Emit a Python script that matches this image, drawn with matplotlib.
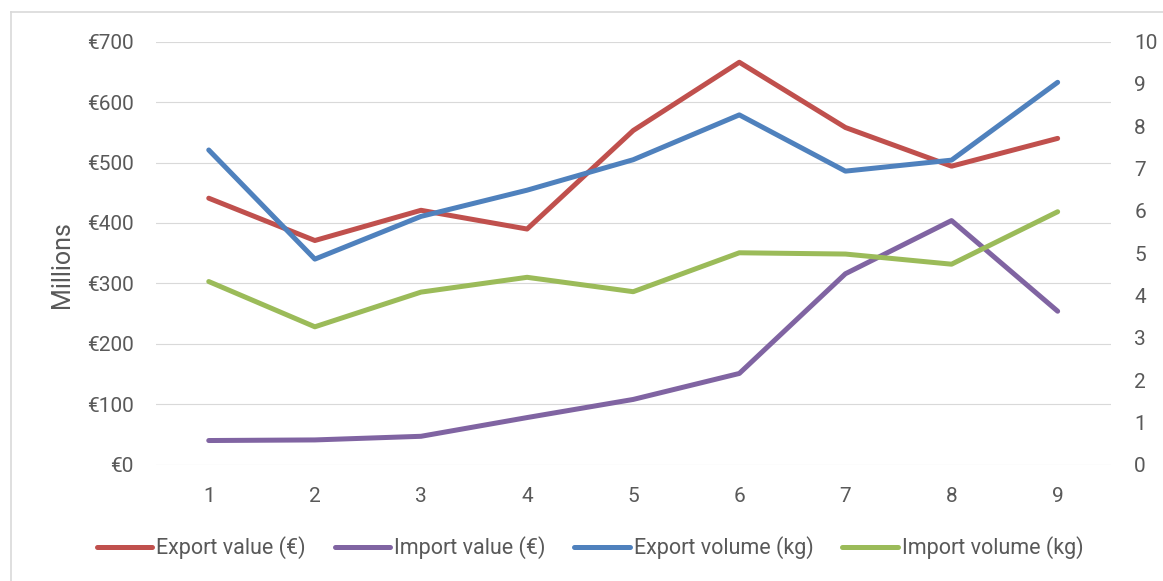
import matplotlib
matplotlib.use('Agg')
import matplotlib.pyplot as plt
import matplotlib.ticker as mticker
from matplotlib.lines import Line2D

plt.rcParams['font.family'] = ['Roboto', 'DejaVu Sans']

periods = [1, 2, 3, 4, 5, 6, 7, 8, 9]
export_value = [441, 371, 421, 390, 553, 666, 558, 494, 540]      # € millions
import_value = [40, 41, 47, 78, 108, 151, 316, 404, 254]         # € millions
export_volume = [7.44, 4.86, 5.87, 6.49, 7.21, 8.27, 6.94, 7.20, 9.04]
import_volume = [4.33, 3.26, 4.08, 4.43, 4.09, 5.01, 4.98, 4.74, 5.98]

left_ticks = [0, 100, 200, 300, 400, 500, 600, 700]
right_ticks = list(range(0, 11))

RED, PURPLE, BLUE, GREEN = '#C0504D', '#8064A2', '#4F81BD', '#9BBB59'
TXT = '#595959'
GRID = '#D9D9D9'
LINE_KW = dict(lw=3.6, solid_capstyle='round', solid_joinstyle='round')

W, H = 1163, 581
fig = plt.figure(figsize=(W / 100, H / 100), dpi=100)
ax = fig.add_axes([155.7 / W, 1 - 464.7 / H, (1110.7 - 155.7) / W, (464.7 - 41.7) / H])
ax2 = ax.twinx()

ax.plot(periods, export_value, color=RED, label='Export value (€)', **LINE_KW)
ax.plot(periods, import_value, color=PURPLE, label='Import value (€)', **LINE_KW)
ax2.plot(periods, export_volume, color=BLUE, label='Export volume (kg)', **LINE_KW)
ax2.plot(periods, import_volume, color=GREEN, label='Import volume (kg)', **LINE_KW)

ax.set_xlim(0.5, 9.5)
ax.set_ylim(0, 700)
ax2.set_ylim(0, 10)
ax.set_xticks(periods)
ax.set_yticks(left_ticks)
ax2.set_yticks(right_ticks)
ax.yaxis.set_major_formatter(mticker.FuncFormatter(lambda v, _: f'€{v:.0f}'))

ax.grid(axis='y', color=GRID, lw=0.8)
ax.set_axisbelow(True)
for a in (ax, ax2):
    for s in a.spines.values():
        s.set_visible(False)
    a.tick_params(length=0, labelsize=15, labelcolor=TXT)
ax.tick_params(axis='y', pad=16)
ax.tick_params(axis='x', pad=16)
ax2.tick_params(axis='y', pad=17)

fig.text(62 / W, 1 - 265 / H, 'Millions', rotation=90, ha='center', va='center',
         fontsize=18, color=TXT)

h1, l1 = ax.get_legend_handles_labels()
h2, l2 = ax2.get_legend_handles_labels()
leg = fig.legend(h1 + h2, l1 + l2, loc='center', bbox_to_anchor=(590 / W, 1 - 548 / H),
                 ncol=4, frameon=False, fontsize=15.5, handlelength=2.56,
                 handletextpad=0.19, columnspacing=1.35)
for t in leg.get_texts():
    t.set_color(TXT)

# light chart-area border (top and left edges visible)
fig.add_artist(Line2D([11 / W, 1], [1 - 12 / H, 1 - 12 / H], color=GRID, lw=1.2,
                      transform=fig.transFigure))
fig.add_artist(Line2D([11 / W, 11 / W], [0, 1 - 12 / H], color=GRID, lw=1.2,
                      transform=fig.transFigure))

fig.savefig('out.png', dpi=100)
